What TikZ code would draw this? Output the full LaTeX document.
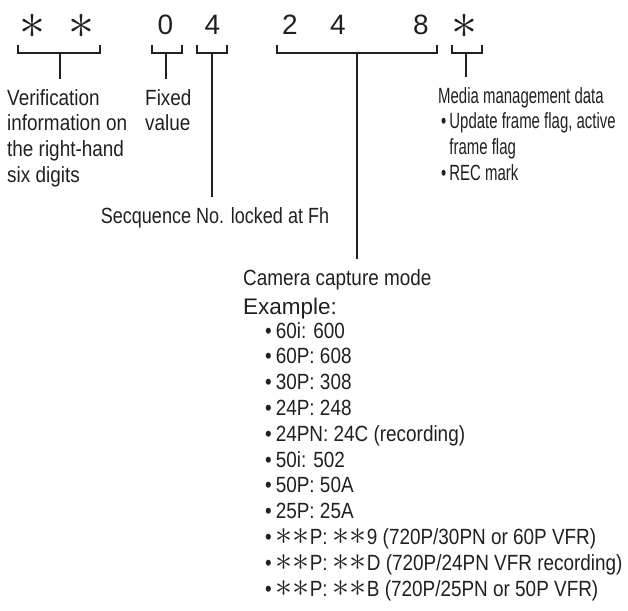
\documentclass[tikz,border=0pt]{standalone}
\usepackage{fontspec}
\setmainfont[FakeStretch=0.86]{Liberation Sans}
\newfontfamily\plainface{Liberation Sans}
\newfontfamily\narrowface[FakeStretch=0.68]{Liberation Sans}
\newfontfamily\seqface[FakeStretch=0.82]{Liberation Sans}
\usepackage{graphicx}
\usepackage{xcolor}
\usetikzlibrary{positioning,calc}

\definecolor{inkgray}{HTML}{231F20}
\newcommand{\codeast}{\raisebox{-3pt}{\scalebox{5.2}{\normalsize$\ast$}}}
\newcommand{\listast}{\scalebox{3.4}{\normalsize$\ast$}}
\newcommand{\itm}{\hspace*{22pt}\textbullet\hspace{4pt}}

\begin{document}
\begin{tikzpicture}[
    x=1pt, y=-1pt,
    every node/.style={text=inkgray},
    digit/.style={
        anchor=base,
        inner sep=0pt,
        font=\plainface\fontsize{28}{28}\selectfont
    },
    note/.style={
        anchor=north west,
        inner sep=0pt,
        align=left,
        font=\fontsize{22}{25.8}\selectfont
    },
    brace/.style={
        draw=inkgray,
        line width=2.2pt
    }
]
\useasboundingbox (0,0) rectangle (628,610);

% ==========================================================
% CODE DIGITS
% ==========================================================
\node[digit] (ast1) at (33,35) {\codeast};
\node[digit] (ast2) at (81,35) {\codeast};
\node[digit] (fix0) at (165.5,35) {0};
\node[digit] (seq4) at (212.5,35) {4};
\node[digit] (mode2) at (290,35) {2};
\node[digit] (mode4) at (338,35) {4};
\node[digit] (mode8) at (421,35) {8};
\node[digit] (ast3) at (464,35) {\codeast};

% ==========================================================
% LABELS
% ==========================================================
\node[note] (verify) at (7,89) {Verification\\information on\\the right-hand\\six digits};
\node[note] (fixed) at (145,89) {Fixed\\value};
\node[note, anchor=north, font=\seqface\fontsize{22}{25.8}\selectfont] (seqno) at (215,207) {Secquence No. locked at Fh};
\node[note, font=\narrowface\fontsize{22}{25.8}\selectfont] (media) at (438,87) {Media management data\\
\hspace*{3pt}\textbullet\hspace{3pt}Update frame flag, active\\
\hspace*{3pt}\phantom{\textbullet\hspace{3pt}}frame flag\\
\hspace*{3pt}\textbullet\hspace{3pt}REC mark};
\node[note] (capmode) at (243,269) {Camera capture mode\\[3.2pt]
{\plainface\fontsize{22.5}{25.8}\selectfont Example:}\\[-1.8pt]
\itm 60i: 600\\
\itm 60P: 608\\
\itm 30P: 308\\
\itm 24P: 248\\
\itm 24PN: 24C (recording)\\
\itm 50i: 502\\
\itm 50P: 50A\\
\itm 25P: 25A\\
\itm \listast\listast P: \listast\listast 9 (720P/30PN or 60P VFR)\\
\itm \listast\listast P: \listast\listast D (720P/24PN VFR recording)\\
\itm \listast\listast P: \listast\listast B (720P/25PN or 50P VFR)};

% ==========================================================
% BRACKETS
% ==========================================================
\coordinate (s1) at (60,53);
\coordinate (s2) at (166,53);
\coordinate (s3) at (212,53);
\coordinate (s4) at (357,53);
\coordinate (s5) at (466,53);

\draw[brace] (18,45) |- (100,53) -- (100,45);
\draw[brace] (152,45) |- (182,53) -- (182,45);
\draw[brace] (197,45) |- (227,53) -- (227,45);
\draw[brace] (277,45) |- (437,53) -- (437,45);
\draw[brace] (452,45) |- (482,53) -- (482,45);

% stems
\draw[brace] (s1) -- ([yshift=10pt]verify.north -| s1);
\draw[brace] (s2) -- ([yshift=10pt]fixed.north -| s2);
\draw[brace] (s3) -- ([yshift=10pt]seqno.north -| s3);
\draw[brace] (s4) -- ([yshift=10pt]capmode.north -| s4);
\draw[brace] (s5) -- ([yshift=10pt]media.north -| s5);

\end{tikzpicture}
\end{document}
